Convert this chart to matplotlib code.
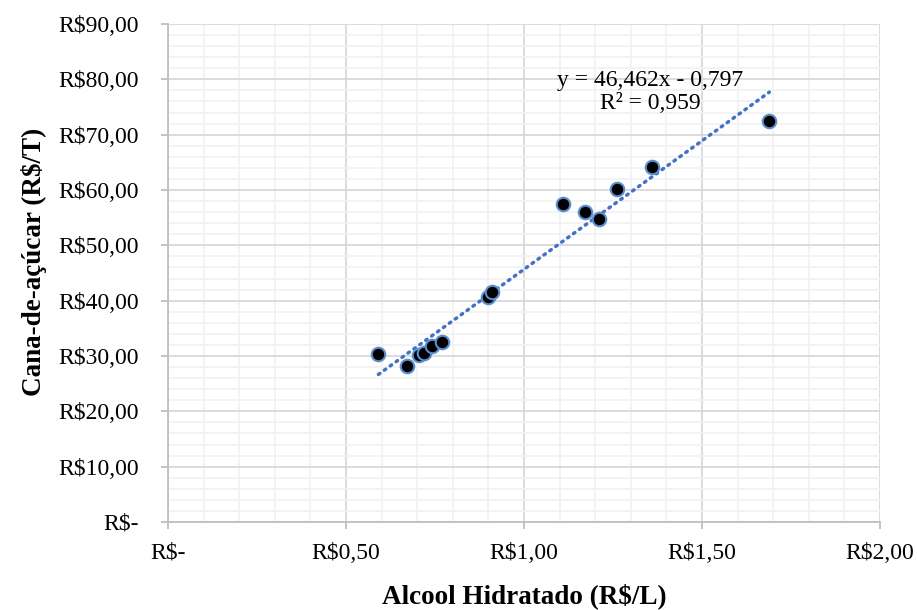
import matplotlib.pyplot as plt
from matplotlib.ticker import MultipleLocator, FuncFormatter

plt.rcParams['font.family'] = ['Liberation Serif', 'DejaVu Serif']

# Preço do álcool hidratado (R$/L) e da cana (R$/T)
alcool = [0.591, 0.670, 0.706, 0.720, 0.741, 0.770, 0.900, 0.911,
          1.109, 1.171, 1.210, 1.260, 1.360, 1.689]
cana = [30.36, 28.19, 30.18, 30.49, 31.86, 32.59, 40.72, 41.62,
        57.47, 56.03, 54.71, 60.13, 64.22, 72.47]

# Linha de tendência (Excel)
a, b = 46.462, -0.797
eq_txt = 'y = 46,462x - 0,797\nR² = 0,959'


def reais(v, pos):
    if abs(v) < 1e-9:
        return 'R$-'
    return 'R$' + f'{v:.2f}'.replace('.', ',')


fig = plt.figure(figsize=(9.17, 6.10), dpi=100)
ax = fig.add_axes([0.1832, 0.1443, 0.7765, 0.8164])

ax.set_xlim(0, 2)
ax.set_ylim(0, 90)
ax.xaxis.set_major_locator(MultipleLocator(0.5))
ax.xaxis.set_minor_locator(MultipleLocator(0.1))
ax.yaxis.set_major_locator(MultipleLocator(10))
ax.yaxis.set_minor_locator(MultipleLocator(2))
ax.xaxis.set_major_formatter(FuncFormatter(reais))
ax.yaxis.set_major_formatter(FuncFormatter(reais))

ax.grid(which='minor', color='#F2F2F2', linewidth=1.3, zorder=0)
ax.grid(which='major', color='#D9D9D9', linewidth=1.3, zorder=0)
ax.set_axisbelow(True)

for s in ['top', 'right']:
    ax.spines[s].set_visible(False)
for s in ['left', 'bottom']:
    ax.spines[s].set_color('#BFBFBF')
    ax.spines[s].set_linewidth(1.3)

ax.tick_params(which='minor', length=0)
ax.tick_params(which='major', length=5, color='#BFBFBF', width=1.3,
               labelsize=17)
ax.tick_params(axis='x', pad=10)
ax.tick_params(axis='y', pad=16)

# tendência
xs = [min(alcool), max(alcool)]
ys = [a * x + b for x in xs]
ax.plot(xs, ys, color='#4472C4', linewidth=2.5, linestyle=(0, (0.5, 1.6)),
        dash_capstyle='round', zorder=2)

ax.scatter(alcool, cana, s=95, color='black', edgecolor='#5B8FD0',
           linewidth=1.5, zorder=3)

ax.text(1.354, 77.7, eq_txt, ha='center', va='center', fontsize=17,
        linespacing=1.15)

ax.set_xlabel('Alcool Hidratado (R$/L)', fontsize=19.5, fontweight='bold',
              labelpad=14)
ax.set_ylabel('Cana-de-açúcar (R$/T)', fontsize=19.5, fontweight='bold',
              labelpad=8)
ax.yaxis.label.set_y(0.523)

fig.savefig('out.png', dpi=100)
